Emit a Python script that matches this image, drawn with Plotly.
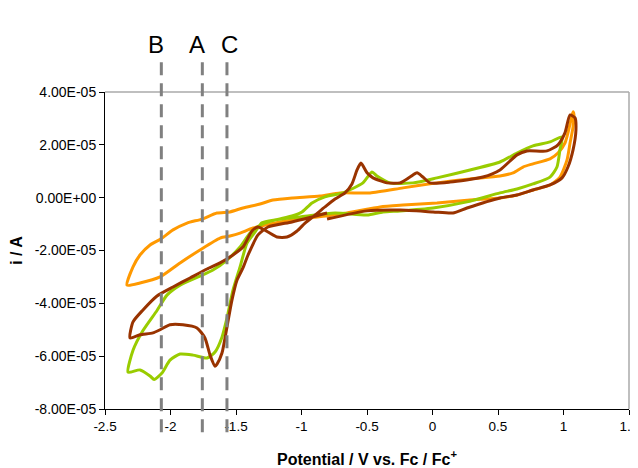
import numpy as np
import plotly.graph_objects as go

# ---- data (potential in V vs Fc/Fc+, current in units of 1e-5 A) ----
orange_v = [-2.332, -2.286, -2.233, -2.156, -2.073, -1.981, -1.874, -1.760, -1.645, -1.546, -1.447, -1.317,
            -1.218, -1.065, -0.859, -0.706, -0.477, -0.225, 0.034, 0.286, 0.515, 0.615, 0.691, 0.767, 0.897,
            0.958, 1.011, 1.034, 1.057, 1.073,
            1.080, 1.073, 1.050, 1.027, 0.973, 0.897, 0.767, 0.645, 0.515, 0.286, 0.034, -0.225, -0.400,
            -0.653, -0.935, -1.164, -1.370, -1.469, -1.546, -1.622, -1.775, -1.927, -2.080, -2.233, -2.332]
orange_i = [-3.31, -2.62, -2.17, -1.79, -1.56, -1.22, -0.96, -0.81, -0.58, -0.54, -0.39, -0.24,
            -0.09, -0.01, 0.06, 0.18, 0.18, 0.37, 0.56, 0.71, 0.82, 0.94, 1.16, 1.28, 1.47,
            1.69, 2.07, 2.45, 2.94, 3.25,
            3.13, 2.68, 2.07, 1.43, 0.78, 0.48, 0.29, 0.10, -0.01, -0.09, -0.20, -0.28, -0.35,
            -0.58, -0.77, -0.92, -1.15, -1.34, -1.45, -1.53, -1.98, -2.47, -3.00, -3.23, -3.31]

green_v = [-2.324, -2.286, -2.210, -2.103, -2.027, -1.927, -1.775, -1.676, -1.569, -1.469, -1.393, -1.302,
           -1.202, -1.073, -0.996, -0.920, -0.821, -0.683, -0.531, -0.462, -0.424, -0.324, -0.149, 0.034,
           0.286, 0.515, 0.645, 0.767, 0.897, 0.989,
           0.973, 0.950, 0.897, 0.767, 0.645, 0.515, 0.263, 0.004, -0.248, -0.378, -0.500, -0.744, -1.011,
           -1.202, -1.302, -1.355, -1.416, -1.469, -1.523, -1.569, -1.607, -1.660, -1.721, -1.828, -1.927,
           -2.004, -2.065, -2.125, -2.156, -2.233, -2.324]
green_i = [-6.61, -5.78, -5.03, -4.27, -3.69, -3.31, -2.97, -2.74, -2.36, -1.87, -1.34, -1.00,
           -0.84, -0.69, -0.54, -0.20, 0.03, 0.18, 0.56, 0.97, 0.82, 0.56, 0.56, 0.75,
           1.05, 1.35, 1.69, 1.96, 2.11, 2.30,
           1.81, 1.16, 0.78, 0.52, 0.33, 0.18, -0.16, -0.39, -0.50, -0.54, -0.66, -0.58, -0.73,
           -0.84, -0.95, -1.30, -1.72, -2.62, -3.50, -4.56, -5.28, -5.84, -6.07, -5.96, -5.92,
           -6.15, -6.64, -6.88, -6.75, -6.52, -6.61]

brown_v = [-0.805, -0.920, -1.073, -1.256, -1.332, -1.408, -1.447, -1.492, -1.531, -1.569, -1.607, -1.645,
           -1.660, -1.698, -1.737, -1.798, -1.905, -2.004, -2.080, -2.134, -2.233, -2.309,
           -2.286, -2.210, -2.103, -1.981, -1.851, -1.721, -1.622, -1.523, -1.447, -1.378, -1.332, -1.256,
           -1.187, -1.111, -1.034, -0.973, -0.897, -0.821, -0.744, -0.668, -0.615, -0.576, -0.546, -0.500,
           -0.454, -0.347, -0.248, -0.172, -0.118, -0.073, -0.019, 0.134, 0.385, 0.515, 0.645, 0.721,
           0.874, 0.958, 1.011, 1.050, 1.088,
           1.095, 1.073, 1.034, 0.989, 0.897, 0.767, 0.645, 0.515, 0.263, 0.156, 0.004, -0.248, -0.500,
           -0.805]
brown_i = [-0.58, -0.73, -0.92, -1.11, -1.41, -2.17, -2.66, -3.12, -3.88, -4.90, -5.88, -6.30,
           -6.38, -5.96, -5.31, -4.93, -4.81, -4.81, -5.00, -5.12, -5.19, -5.31,
           -4.70, -4.25, -3.72, -3.38, -3.04, -2.70, -2.47, -2.17, -1.87, -1.26, -1.11, -1.30,
           -1.49, -1.49, -1.26, -0.96, -0.66, -0.35, -0.05, 0.18, 0.52, 1.05, 1.31, 0.94,
           0.75, 0.56, 0.56, 0.78, 0.94, 0.78, 0.56, 0.59, 0.78, 1.05, 1.62, 1.77,
           1.77, 2.00, 2.45, 3.13, 3.02,
           2.56, 1.81, 1.16, 0.75, 0.48, 0.29, 0.10, -0.01, -0.39, -0.58, -0.54, -0.47, -0.50,
           -0.81]

current_scale = 1e-5

marker_labels = ["B", "A", "C"]
marker_potentials = [-2.07, -1.757, -1.569]

x_tickvals = [-2.5, -2, -1.5, -1, -0.5, 0, 0.5, 1, 1.5]
x_ticktext = ["-2.5", "-2", "-1.5", "-1", "-0.5", "0", "0.5", "1", "1.5"]
y_tickvals = [4e-5, 2e-5, 0, -2e-5, -4e-5, -6e-5, -8e-5]
y_ticktext = ["4.00E-05", "2.00E-05", "0.00E+00", "-2.00E-05", "-4.00E-05", "-6.00E-05", "-8.00E-05"]

series = [
    (orange_v, orange_i, "#FF9900"),
    (green_v, green_i, "#99CC00"),
    (brown_v, brown_i, "#993300"),
]

fig = go.Figure()
for v, i, col in series:
    fig.add_trace(go.Scatter(
        x=v, y=np.array(i) * current_scale, mode="lines",
        line=dict(color=col, width=3, shape="spline", smoothing=0.6),
        showlegend=False, hoverinfo="skip"))

shapes = []
for xv in marker_potentials:
    shapes.append(dict(type="line", xref="x", yref="paper", x0=xv, x1=xv, y0=-0.073, y1=1.117,
                       line=dict(color="#808080", width=3, dash="13px,8px"), layer="above"))
# gray top and right frame
shapes.append(dict(type="line", xref="paper", yref="paper", x0=0, x1=1, y0=1, y1=1,
                   line=dict(color="#AAAAAA", width=1.5), layer="below"))
shapes.append(dict(type="line", xref="paper", yref="paper", x0=1, x1=1, y0=0, y1=1,
                   line=dict(color="#AAAAAA", width=1.5), layer="below"))

annotations = []
shifts = [-5, -5, 3]
for lab, xv, sh in zip(marker_labels, marker_potentials, shifts):
    annotations.append(dict(text=lab, x=xv, xref="x", y=1.2, yref="paper", showarrow=False,
                            xshift=sh, font=dict(size=24, color="black",
                                                 family="Liberation Sans, Arial, sans-serif")))

fig.update_layout(
    width=630, height=460,
    margin=dict(l=97, r=9, t=84, b=59, autoexpand=False),
    paper_bgcolor="white", plot_bgcolor="white",
    font=dict(family="Liberation Sans, Arial, sans-serif", size=13.5, color="black"),
    shapes=shapes, annotations=annotations,
    xaxis=dict(range=[-2.5, 1.5], tickvals=x_tickvals, ticktext=x_ticktext,
               showgrid=False, zeroline=False, showline=True, linecolor="black", linewidth=1,
               ticks="outside", ticklen=5, tickcolor="black", automargin=False,
               ticklabeloverflow="allow",
               title=dict(text="<b>Potential / V vs. Fc / Fc<sup>+</sup></b>",
                          font=dict(size=16), standoff=21)),
    yaxis=dict(range=[-8e-5, 4e-5], tickvals=y_tickvals, ticktext=y_ticktext,
               showgrid=False, zeroline=False, showline=True, linecolor="black", linewidth=1,
               ticks="outside", ticklen=5, tickcolor="black", automargin=False,
               ticklabeloverflow="allow", tickfont=dict(size=14),
               title=dict(text="<b>i / A</b>", font=dict(size=16), standoff=20)),
)

fig.write_html("out.html")
